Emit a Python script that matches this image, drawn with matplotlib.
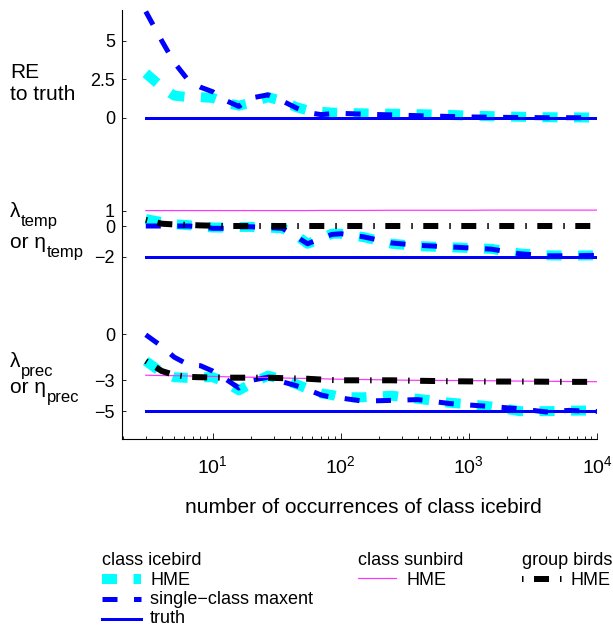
import matplotlib
matplotlib.use("Agg")
import matplotlib.pyplot as plt
from matplotlib.lines import Line2D
import numpy as np

plt.rcParams['font.family'] = ['Liberation Sans', 'DejaVu Sans']
plt.rcParams['mathtext.fontset'] = 'custom'
plt.rcParams['mathtext.rm'] = 'Liberation Sans'
plt.rcParams['mathtext.it'] = 'Liberation Sans:italic'
plt.rcParams['lines.scale_dashes'] = False

# ---------------- data ----------------
occurrences = [3, 4, 5, 6.5, 8, 10, 12.5, 16, 20, 27, 35, 45, 55, 70, 85, 100,
               150, 250, 400, 700, 1000, 1500, 2500, 4000, 6000, 10000]

# panel 1: relative entropy to truth
re_hme = [2.9, 2.0, 1.45, 1.35, 1.35, 1.3, 1.0, 0.8, 1.0, 1.35, 1.1, 0.7, 0.5, 0.4,
          0.35, 0.33, 0.3, 0.28, 0.25, 0.2, 0.15, 0.12, 0.08, 0.05, 0.04, 0.03]
re_single = [6.9, 5.0, 3.6, 2.4, 2.0, 1.7, 1.15, 0.75, 1.3, 1.5, 1.1, 0.65, 0.35, 0.22,
             0.28, 0.3, 0.25, 0.2, 0.15, 0.1, 0.07, 0.05, 0.03, 0.02, 0.02, 0.02]
re_truth = 0.0

# panel 2: lambda_temp / eta_temp
temp_hme = [0.45, 0.25, 0.12, 0.05, -0.02, -0.1, -0.1, -0.06, -0.06, -0.1, -0.15, -0.6,
            -1.15, -0.8, -0.5, -0.5, -0.72, -1.15, -1.3, -1.38, -1.42, -1.48, -1.78,
            -1.9, -1.92, -1.9]
temp_single = [0.0, 0.0, 0.0, 0.0, -0.05, -0.15, -0.15, -0.05, -0.05, -0.1, -0.15, -0.7,
               -1.15, -0.8, -0.55, -0.5, -0.7, -1.1, -1.25, -1.35, -1.42, -1.5, -1.8,
               -1.93, -1.93, -1.9]
temp_truth = -2.0
temp_sunbird = [1.0, 1.0, 1.0, 1.0, 1.0, 1.0, 1.0, 1.0, 1.0, 1.0, 1.0, 1.0, 1.0, 1.01,
                1.01, 1.01, 1.01, 1.02, 1.02, 1.02, 1.02, 1.03, 1.03, 1.03, 1.03, 1.03]
temp_group = [0.4, 0.15, 0.1, 0.07, 0.04, 0.02, 0.0, 0.0, 0.0, 0.0, 0.0, 0.0, 0.0, 0.0,
              0.0, 0.0, 0.0, 0.0, 0.0, 0.0, 0.0, 0.0, 0.0, 0.0, 0.0, 0.0]

# panel 3: lambda_prec / eta_prec
prec_hme = [-1.75, -2.5, -2.8, -2.85, -2.8, -2.8, -3.1, -3.65, -3.2, -2.7, -2.95, -3.25,
            -3.55, -3.85, -3.95, -4.1, -4.1, -4.0, -4.2, -4.45, -4.55, -4.7, -5.0,
            -5.0, -4.97, -4.95]
prec_single = [-0.05, -0.8, -1.5, -2.0, -2.05, -2.4, -2.9, -3.5, -3.0, -2.8, -3.1, -3.35,
               -3.6, -3.95, -4.1, -4.15, -4.35, -4.3, -4.25, -4.5, -4.6, -4.7, -4.85,
               -5.05, -4.95, -5.02]
prec_truth = -5.0
prec_sunbird = [-2.67, -2.69, -2.7, -2.72, -2.74, -2.75, -2.77, -2.79, -2.8, -2.82, -2.85,
                -2.87, -2.88, -2.9, -2.92, -2.93, -2.95, -2.98, -3.0, -3.01, -3.02,
                -3.03, -3.05, -3.06, -3.08, -3.09]
prec_group = [-1.75, -2.4, -2.65, -2.78, -2.8, -2.82, -2.83, -2.83, -2.83, -2.83, -2.86,
              -2.88, -2.9, -2.95, -2.98, -3.0, -3.0, -3.0, -3.03, -3.06, -3.07, -3.08,
              -3.08, -3.09, -3.1, -3.1]

panel_offsets = [0, -7, -14]
panel_ticks = [[5, 2.5, 0], [1, 0, -2], [0, -3, -5]]
panel_tick_labels = [['5', '2.5', '0'], ['1', '0', '\u22122'], ['0', '\u22123', '\u22125']]
# each label line: (main text, subscript)
panel_labels = [(('RE', ''), ('to truth', '')),
                (('\u03bb', 'temp'), ('or \u03b7', 'temp')),
                (('\u03bb', 'prec'), ('or \u03b7', 'prec'))]

xlabel = 'number of occurrences of class icebird'

# ---------------- styles ----------------
W, H = 613, 626
PX = 0.72  # points per pixel at dpi 100
cyan_style = dict(color='#00ffff', lw=10 * PX, dashes=(15 * PX, 16.5 * PX), solid_capstyle='butt')
blue_style = dict(color='#0000ff', lw=5 * PX, dashes=(15 * PX, 16.5 * PX))
truth_style = dict(color='#0000ff', lw=3 * PX, ls='-')
pink_style = dict(color='#ff33ff', lw=1.2 * PX, ls='-')
black_style = dict(color='black', lw=6 * PX, dashes=(1.5 * PX, 10.5 * PX, 15 * PX, 11 * PX))

fig = plt.figure(figsize=(W / 100, H / 100), dpi=100)
ax_l, ax_r, ax_t, ax_b = 122, 597, 10, 439
ax = fig.add_axes([ax_l / W, 1 - ax_b / H, (ax_r - ax_l) / W, (ax_b - ax_t) / H])

x = np.array(occurrences)
series = [
    (re_hme, re_single, re_truth, None, None),
    (temp_hme, temp_single, temp_truth, temp_sunbird, temp_group),
    (prec_hme, prec_single, prec_truth, prec_sunbird, prec_group),
]
for (hme, single, truth, sun, grp), off in zip(series, panel_offsets):
    ax.plot(x, np.array(hme) + off, zorder=2, **cyan_style)
    ax.plot([x[0], x[-1]], [truth + off, truth + off], zorder=3, **truth_style)
    ax.plot(x, np.array(single) + off, zorder=4, **blue_style)
    if sun is not None:
        ax.plot(x, np.array(sun) + off, zorder=5, **pink_style)
    if grp is not None:
        ax.plot(x, np.array(grp) + off, zorder=6, **black_style)

ax.set_xscale('log')
ax.set_xlim(1.956, 1e4)
scale = 15.43
ax.set_ylim(-(ax_b - 118) / scale, (118 - ax_t) / scale)

yt, ytl = [], []
for off, tv, tl in zip(panel_offsets, panel_ticks, panel_tick_labels):
    yt += [v + off for v in tv]
    ytl += tl
ax.set_yticks(yt)
ax.set_yticklabels(ytl)
ax.set_xticks([10, 100, 1000, 10000])
ax.set_xticklabels([r'$\mathregular{10^{1}}$', r'$\mathregular{10^{2}}$',
                    r'$\mathregular{10^{3}}$', r'$\mathregular{10^{4}}$'])

for s in ['top', 'right']:
    ax.spines[s].set_visible(False)
for s in ['left', 'bottom']:
    ax.spines[s].set_linewidth(0.8)
ax.tick_params(axis='both', which='both', direction='in', labelsize=13, width=0.6)
ax.tick_params(axis='y', which='major', length=3.0, pad=5)
ax.tick_params(axis='x', which='major', length=4, pad=12)
ax.tick_params(axis='x', which='minor', length=2.4)
ax.tick_params(axis='x', which='major', labelsize=14)
ax.set_xlabel(xlabel, fontsize=15)
ax.xaxis.label.set_va('baseline')
ax.xaxis.set_label_coords((363 - ax_l) / (ax_r - ax_l), -(513 - ax_b) / (ax_b - ax_t))

def fx(px):
    return px / W

def fy(py):
    return 1 - py / H

# panel labels (left side), subscripts drawn as lowered smaller text
renderer = fig.canvas.get_renderer()
label_baselines = [(78, 100), (217, 248), (367, 393)]
for lines, bases in zip(panel_labels, label_baselines):
    for (main, sub), base in zip(lines, bases):
        t = fig.text(fx(10), fy(base), main, fontsize=15, ha='left', va='baseline')
        if sub:
            bb = t.get_window_extent(renderer)
            fig.text(fx(bb.x1 + 0.5), fy(base + 9), sub, fontsize=12,
                     ha='left', va='baseline')

# ---------------- legend (manual, below axes) ----------------
def leg_line(x0, x1, y, style, **kw):
    ln = Line2D([fx(x0), fx(x1)], [fy(y), fy(y)], transform=fig.transFigure, **style, **kw)
    fig.add_artist(ln)

fs = 13
# column 1
fig.text(fx(102), fy(565), 'class icebird', fontsize=fs, ha='left', va='baseline')
leg_line(102, 141, 578.5, cyan_style)
fig.text(fx(150), fy(585), 'HME', fontsize=fs, ha='left', va='baseline')
leg_line(102, 141, 598.5, blue_style)
fig.text(fx(150), fy(604), 'single\u2212class maxent', fontsize=fs, ha='left', va='baseline')
leg_line(102, 141, 618.5, truth_style)
fig.text(fx(150), fy(623), 'truth', fontsize=fs, ha='left', va='baseline')
# column 2
fig.text(fx(358), fy(565), 'class sunbird', fontsize=fs, ha='left', va='baseline')
leg_line(358, 396, 578, pink_style)
fig.text(fx(407), fy(585), 'HME', fontsize=fs, ha='left', va='baseline')
# column 3
fig.text(fx(522), fy(565), 'group birds', fontsize=fs, ha='left', va='baseline')
leg_line(522, 562, 578.5, black_style)
fig.text(fx(570), fy(585), 'HME', fontsize=fs, ha='left', va='baseline')

fig.savefig('out.png', dpi=100)
